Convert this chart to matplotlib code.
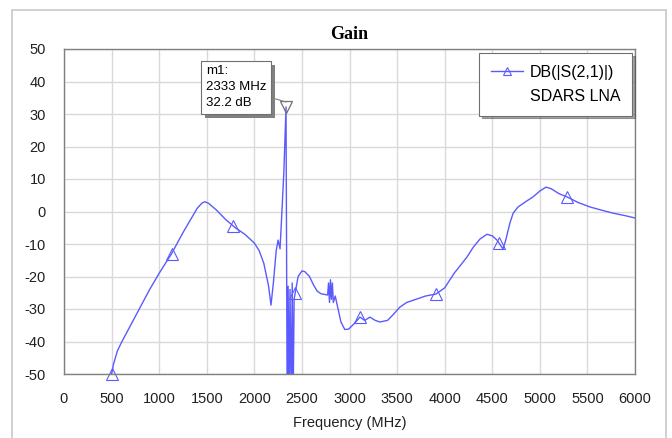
import matplotlib.pyplot as plt
import numpy as np
from matplotlib.patches import Rectangle
from matplotlib.lines import Line2D
import matplotlib.patheffects as pe

plt.rcParams["font.family"] = ["Liberation Sans", "DejaVu Sans"]
plt.rcParams["axes.unicode_minus"] = False

# S21 trace (MHz, dB)
freq = [500, 520, 560, 600, 700, 800, 900, 1000, 1130, 1250, 1350, 1400, 1450,
        1480, 1520, 1600, 1700, 1800, 1900, 2000, 2050, 2100, 2150, 2175, 2200,
        2230, 2250, 2270, 2290, 2310, 2333, 2345, 2355, 2365, 2375, 2388, 2398,
        2408, 2418, 2430, 2460, 2500, 2530, 2580, 2620, 2660, 2700, 2770, 2780,
        2790, 2800, 2810, 2820, 2830, 2850, 2880, 2910, 2950, 2990, 3050, 3110,
        3160, 3215, 3270, 3320, 3400, 3450, 3530, 3600, 3700, 3800, 3909, 4000,
        4100, 4235, 4300, 4370, 4445, 4500, 4550, 4613, 4640, 4686, 4720, 4771,
        4850, 4929, 5000, 5065, 5120, 5200, 5285, 5400, 5527, 5650, 5769, 5900,
        6000]
gain = [-50, -47, -43, -40.5, -35, -29.5, -24, -19, -13, -6.5, -1.5, 1, 2.6,
        3, 2.5, 0.5, -2.5, -5, -7, -9.7, -12, -16, -23, -28.8, -22,
        -12, -8.8, -11.5, 0, 12, 32.2, -60, -23, -60, -24, -60, -22,
        -58, -27, -25, -20, -18.3, -18.5, -20, -22.5, -24.5, -25.3, -25.7, -22,
        -28, -21, -27, -22, -28, -26, -30, -34, -36.3, -36.2, -34.5, -32.5,
        -33.5, -32.5, -33.5, -34, -33.5, -32, -29.4, -28, -27, -26, -25.4, -23.5,
        -19, -14, -11, -8.5, -7, -7.5, -8.8, -11.5, -9, -3.5, -0.5, 1.4,
        3, 4.5, 6.3, 7.5, 7, 5.5, 4.5, 2.8, 1.4, 0.4, -0.5, -1.3,
        -2]
marker_freq = [500, 1130, 1780, 2430, 3110, 3909, 4570, 5290]
m1_freq = 2333
m1_gain = 32.2

line_color = "#5a5aff"

fig = plt.figure(figsize=(6.72, 4.38), dpi=100)
ax = fig.add_axes([64 / 672, 1 - 374 / 438, 571 / 672, 325 / 438])

# outer frame
fig.patches.append(Rectangle((12 / 672, -0.1), 654 / 672, 1.1 - 10 / 438,
                             transform=fig.transFigure, fill=False,
                             edgecolor="#c8c8c8", lw=1.2))

ax.plot(freq, gain, color=line_color, lw=1)
marker_gain = np.interp(marker_freq, freq, gain)
ax.plot(marker_freq, marker_gain, ls="none", marker="^", ms=8,
        mfc="none", mec=line_color, mew=0.8, clip_on=False)
ax.plot([m1_freq], [m1_gain], ls="none", marker="v", ms=8,
        mfc="none", mec="#707070", mew=0.9)

ax.set_xlim(0, 6000)
ax.set_ylim(-50, 50)
ax.set_xticks(np.arange(0, 6001, 500))
ax.set_yticks(np.arange(-50, 51, 10))
ax.tick_params(length=0, pad=13, labelsize=10.5, colors="#202020")
ax.grid(True, color="#d9d9d9", lw=1)
ax.set_axisbelow(True)
for s in ax.spines.values():
    s.set_color("#808080")
    s.set_linewidth(1)

ax.set_title("Gain", family=["Liberation Serif", "DejaVu Serif"],
             fontweight="bold", fontsize=13, pad=7)
ax.set_xlabel("Frequency (MHz)", fontsize=10.5, labelpad=7, color="#202020")

# marker readout
ann = ax.annotate(f"m1:\n{m1_freq} MHz\n{m1_gain} dB",
                  xy=(m1_freq, m1_gain + 1.5), xytext=(1490, 45.0),
                  va="top", ha="left", fontsize=9.5, linespacing=1.45,
                  bbox=dict(boxstyle="square,pad=0.35", fc="white",
                            ec="#707070", lw=0.8),
                  arrowprops=dict(arrowstyle="-", color="#808080", lw=0.8,
                                  shrinkA=0, shrinkB=0))
ann.get_bbox_patch().set_path_effects(
    [pe.SimplePatchShadow(offset=(3, -3), shadow_rgbFace="#808080", alpha=1),
     pe.Normal()])

# legend
h1 = Line2D([], [], color=line_color, lw=1, marker="^", ms=6,
            mfc="none", mec=line_color, mew=0.8)
h2 = Line2D([], [], color="none")
leg = ax.legend([h1, h2], ["DB(|S(2,1)|)", "SDARS LNA"], loc="upper right",
                bbox_to_anchor=(0.995, 0.988), borderaxespad=0,
                fancybox=False, shadow=True, framealpha=1, edgecolor="#707070",
                fontsize=11.5, handlelength=2.0, handletextpad=0.4,
                labelspacing=0.55, borderpad=0.75)
leg.get_frame().set_linewidth(0.8)

fig.savefig("out.png", dpi=100)
